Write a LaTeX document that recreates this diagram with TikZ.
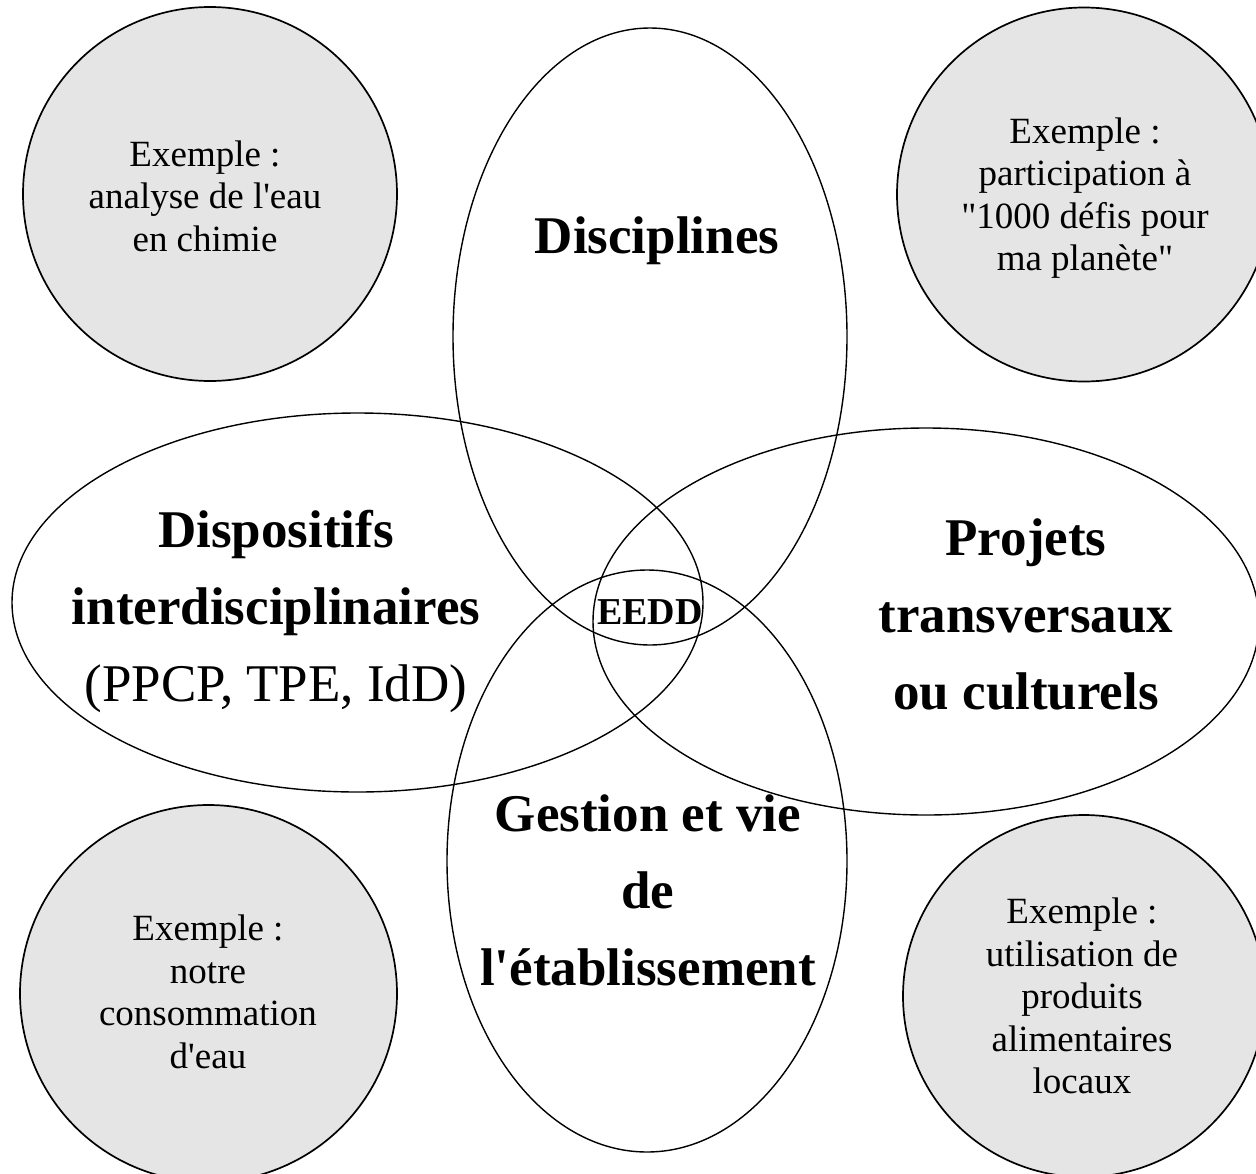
\documentclass[tikz,border=0pt]{standalone}
\usepackage{fontspec}
\setmainfont{Liberation Serif}
\usetikzlibrary{shapes.geometric}
\begin{document}
\begin{tikzpicture}[x=1pt,y=-1pt,
  example/.style={circle, draw, line width=1.7pt, fill=black!10, inner sep=0pt},
  zone/.style={ellipse, draw, line width=1.4pt, inner sep=0pt},
  bigtxt/.style={font=\fontsize{53}{77}\selectfont\bfseries, align=center, inner sep=0pt},
  smalltxt/.style={font=\fontsize{37}{42.5}\selectfont, align=center, inner sep=0pt}]
\useasboundingbox (0,0) rectangle (1256,1173);
\clip (0,0) rectangle (1256,1173);
% example circles
\node[example, minimum size=374pt] (c1) at (210,194) {};
\node[example, minimum size=374pt] (c2) at (1084,194.5) {};
\node[example, minimum size=377pt] (c3) at (208.5,993.5) {};
\node[example, minimum size=362pt] (c4) at (1084,996) {};
% zones
\node[zone, minimum width=394pt, minimum height=617pt] (disc) at (650,336.5) {};
\node[zone, minimum width=400pt, minimum height=582pt] (gest) at (647,861) {};
\node[zone, minimum width=691pt, minimum height=379pt] (disp) at (357.5,602.5) {};
\node[zone, minimum width=666pt, minimum height=387pt] (proj) at (926,621.5) {};
% texts
\node[smalltxt] (t1) at (205,196) {Exemple :\\analyse de l\textquotesingle eau\\en chimie};
\node[smalltxt] (t2) at (1085,198) {Exemple :\\participation à\\\textquotedbl 1000 défis pour\\ma planète\textquotedbl};
\node[smalltxt] (t3) at (208,992) {Exemple :\\notre\\consommation\\d\textquotesingle eau};
\node[smalltxt] (t4) at (1082,996) {Exemple :\\utilisation de\\produits\\alimentaires\\locaux};
\node[bigtxt] (l1) at (657,241) {Disciplines};
\node[bigtxt] (l2) at (276,611) {Dispositifs\\interdisciplinaires\\\mdseries (PPCP, TPE, IdD)};
\node[bigtxt] (l3) at (1026,614) {Projets\\transversaux\\ou culturels};
\node[bigtxt] (l4) at (648,890) {Gestion et vie\\de\\l\textquotesingle établissement};
\node[font=\fontsize{38}{42}\selectfont\bfseries, inner sep=0pt] (eedd) at (650,612) {EEDD};
\end{tikzpicture}
\end{document}
